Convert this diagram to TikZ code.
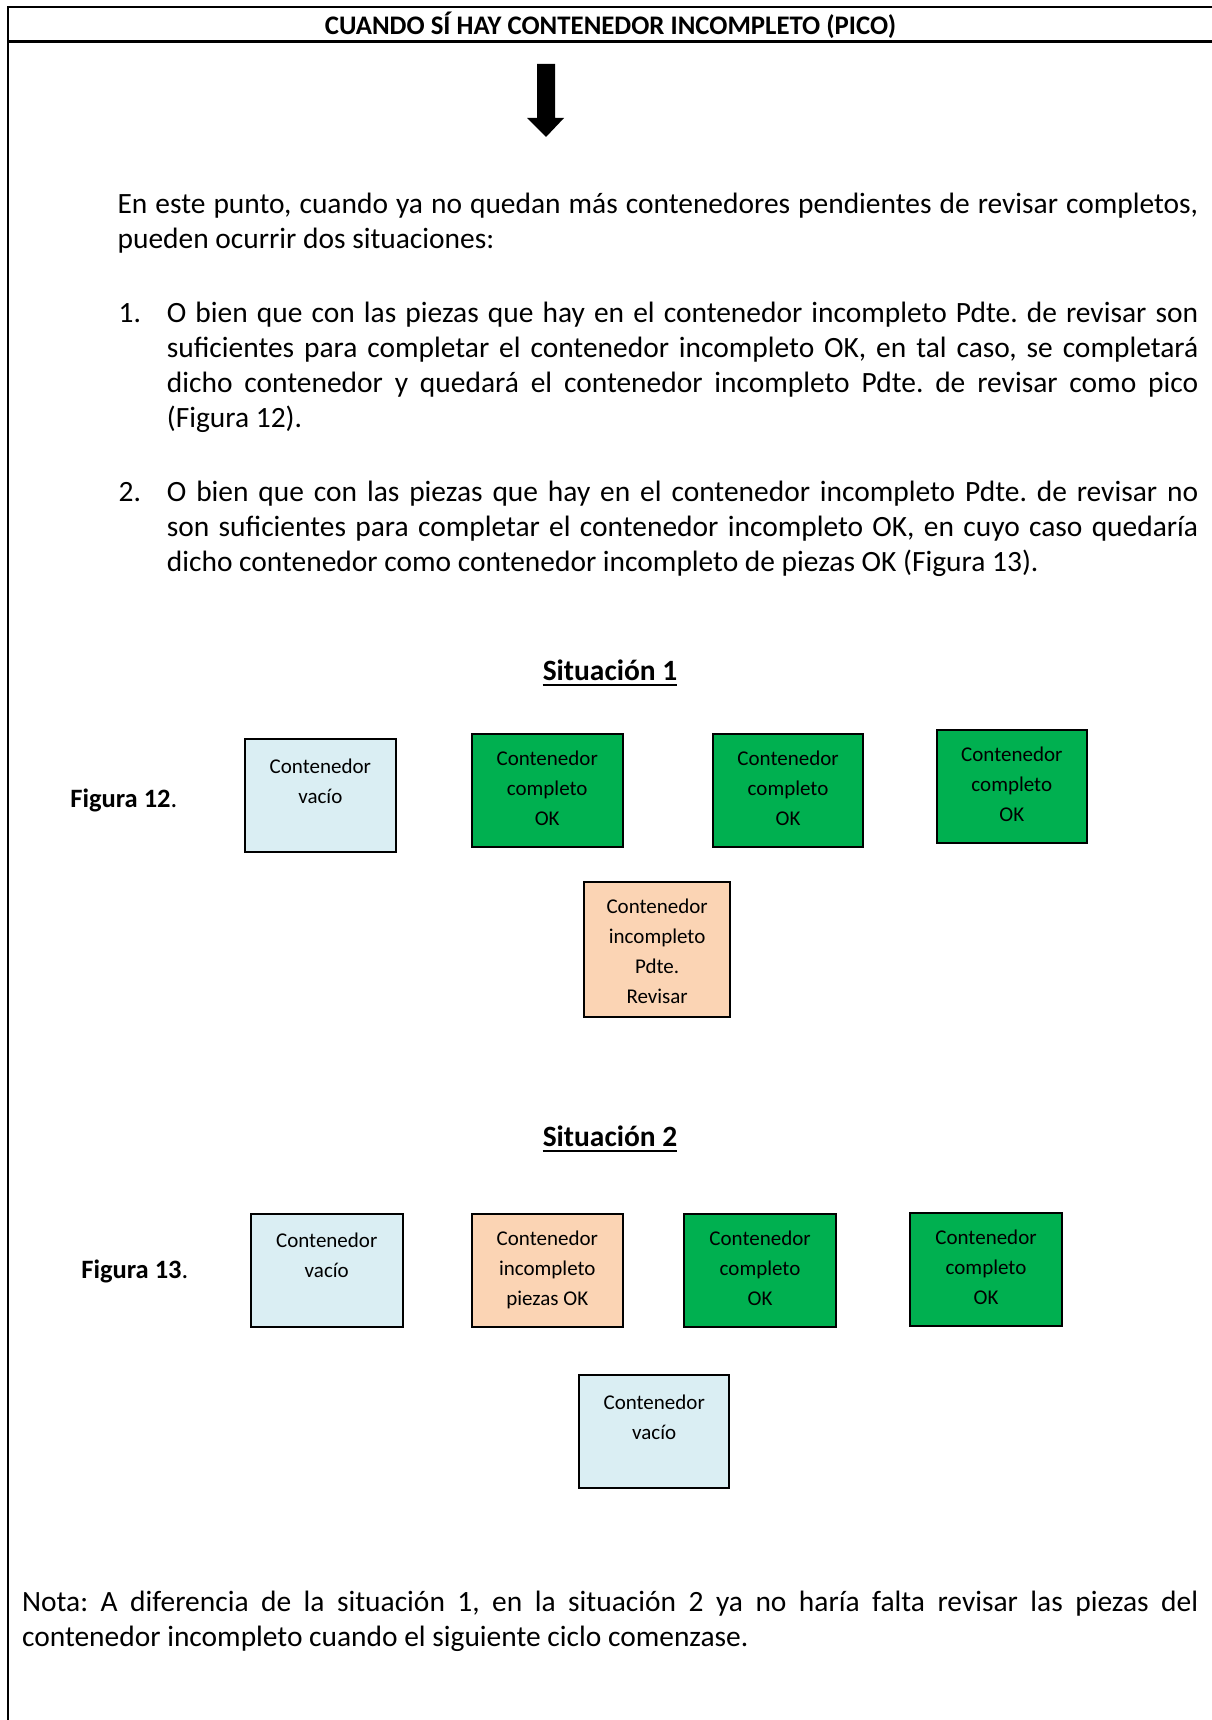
\documentclass[tikz,border=0pt]{standalone}
\usepackage{fontspec}
\setmainfont{Carlito}
\frenchspacing
\definecolor{vacio}{HTML}{DAEEF3}
\definecolor{verde}{HTML}{00B050}
\definecolor{melocoton}{HTML}{FBD4B4}
\newcommand\cuerpo{\fontsize{29.45pt}{35.1pt}\selectfont}
\newcommand\cajafont{\fontsize{21pt}{30pt}\selectfont}
% container box: name, x, y (top left), width, height, fill, gap above text, lines
\newcommand\cajon[8]{\node[cajon,fill=#6] (#1) at (#2,#3)
  {\parbox[c][#5pt][t]{#4pt}{\centering\vspace*{#7pt}\strut #8}};}
\tikzset{
  cajon/.style={draw=black, line width=2pt, inner sep=0pt, anchor=north west, font=\cajafont},
  linea/.style={inner sep=0pt, anchor=base west, font=\cuerpo},
  titulo/.style={inner sep=0pt, anchor=base, font=\cuerpo\bfseries},
  figura/.style={inner sep=0pt, anchor=base west, font=\fontsize{26.5pt}{30pt}\selectfont},
}
\begin{document}
\begin{tikzpicture}[x=1pt,y=-1pt]
\useasboundingbox (0,0) rectangle (1211,1720);
% frame and header cell
\draw[line width=2pt] (7.5,1730) -- (7.5,7.5) -- (1220,7.5);
\draw[line width=2.5pt] (7.5,41.5) -- (1220,41.5);
\node[inner sep=0pt, anchor=base, font=\fontsize{26.8pt}{30pt}\selectfont\bfseries] (cabecera) at (610.5,35)
  {CUANDO SÍ HAY CONTENEDOR INCOMPLETO (PICO)};
% block arrow
\fill (537,64) -- (555,64) -- (555,118) -- (564,118) -- (546,137) -- (527,118) -- (537,118) -- cycle;
% introduction
\node[linea] (p1) at (117.4,213.8) {\makebox[1080.6pt][s]{En este punto, cuando ya no quedan más contenedores pendientes de revisar completos,}};
\node[linea] (p2) at (117.4,248.9) {pueden ocurrir dos situaciones:};
% item 1
\node[linea] (n1) at (118.5,322.6) {1.};
\node[linea] (i1a) at (166.7,322.6) {\makebox[1031.3pt][s]{O bien que con las piezas que hay en el contenedor incompleto Pdte. de revisar son}};
\node[linea] (i1b) at (166.7,357.7) {\makebox[1031.3pt][s]{suficientes para completar el contenedor incompleto OK, en tal caso, se completará}};
\node[linea] (i1c) at (166.7,392.8) {\makebox[1031.3pt][s]{dicho contenedor y quedará el contenedor incompleto Pdte. de revisar como pico}};
\node[linea] (i1d) at (166.7,427.9) {(Figura 12).};
% item 2
\node[linea] (n2) at (118.5,501.3) {2.};
\node[linea] (i2a) at (166.7,501.3) {\makebox[1031.3pt][s]{O bien que con las piezas que hay en el contenedor incompleto Pdte. de revisar no}};
\node[linea] (i2b) at (166.7,536.5) {\makebox[1031.3pt][s]{son suficientes para completar el contenedor incompleto OK, en cuyo caso quedaría}};
\node[linea] (i2c) at (166.7,571.8) {dicho contenedor como contenedor incompleto de piezas OK (Figura 13).};
% situation 1
\node[titulo] (s1) at (610,680) {Situación 1};
\draw[line width=2pt] ([yshift=-4.5pt]s1.base west) -- ([yshift=-4.5pt]s1.base east);
\node[figura] (fig12) at (70.2,807.5) {\textbf{Figura 12}.};
\cajon{f12a}{244}{738.3}{150.7}{112.4}{vacio}{12.8}{Contenedor\\vacío}
\cajon{f12b}{470.7}{733}{151}{112.7}{verde}{10.5}{Contenedor\\completo\\OK}
\cajon{f12c}{711.9}{732.7}{150.3}{113}{verde}{10.5}{Contenedor\\completo\\OK}
\cajon{f12d}{935.7}{729.4}{150.2}{113}{verde}{10.5}{Contenedor\\completo\\OK}
\cajon{f12e}{583}{880.7}{146.3}{135.6}{melocoton}{10.5}{Contenedor\\incompleto\\Pdte.\\Revisar}
% situation 2
\node[titulo] (s2) at (610,1146) {Situación 2};
\draw[line width=2pt] ([yshift=-4.5pt]s2.base west) -- ([yshift=-4.5pt]s2.base east);
\node[figura] (fig13) at (81.2,1278) {\textbf{Figura 13}.};
\cajon{f13a}{250}{1213}{151.5}{113}{vacio}{12.8}{Contenedor\\vacío}
\cajon{f13b}{470.6}{1213}{151.4}{113}{melocoton}{10.3}{Contenedor\\incompleto\\piezas OK}
\cajon{f13c}{683.4}{1213}{151.3}{113}{verde}{10.3}{Contenedor\\completo\\OK}
\cajon{f13d}{909.3}{1212}{151.4}{113}{verde}{10.3}{Contenedor\\completo\\OK}
\cajon{f13e}{578}{1374.4}{150.4}{113}{vacio}{12.6}{Contenedor\\vacío}
% closing note
\node[linea] (nota1) at (21.9,1611.5) {\makebox[1176.1pt][s]{Nota: A diferencia de la situación 1, en la situación 2 ya no haría falta revisar las piezas del}};
\node[linea] (nota2) at (21.9,1646.6) {contenedor incompleto cuando el siguiente ciclo comenzase.};
\end{tikzpicture}
\end{document}
